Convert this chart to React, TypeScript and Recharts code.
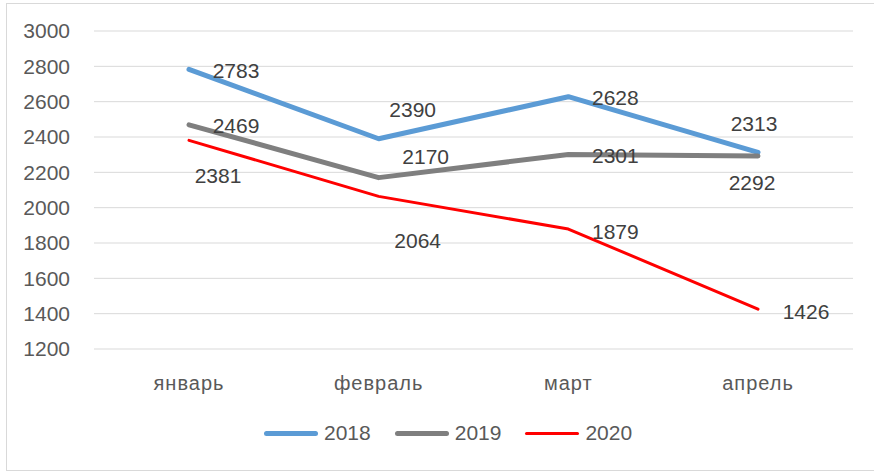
import { LineChart, Line, XAxis, YAxis, CartesianGrid, LabelList } from 'recharts';

const months = ['январь', 'февраль', 'март', 'апрель'];
const values2018 = [2783, 2390, 2628, 2313];
const values2019 = [2469, 2170, 2301, 2292];
const values2020 = [2381, 2064, 1879, 1426];
const yTicks = [1200, 1400, 1600, 1800, 2000, 2200, 2400, 2600, 2800, 3000];

const data = months.map((m, i) => ({
  month: m,
  y2018: values2018[i],
  y2019: values2019[i],
  y2020: values2020[i],
}));

// label offsets relative to each point (label centre)
const offsets2018 = [[47, 1], [34, -29], [47, 1], [-4, -29]];
const offsets2019 = [[47, 1], [47, -21], [47, 1], [-6, 26]];
const offsets2020 = [[29, 35], [39, 44], [47, 2], [48, 2]];

const FONT = '"Liberation Sans", Arial, sans-serif';

const series = [
  { key: 'y2018', name: '2018', color: '#5B9BD5', width: 5, offsets: offsets2018 },
  { key: 'y2019', name: '2019', color: '#7F7F7F', width: 5, offsets: offsets2019 },
  { key: 'y2020', name: '2020', color: '#FF0000', width: 3, offsets: offsets2020 },
];

const makeLabel = (offsets: number[][]) => (props: any) => {
  const { x, y, value, index } = props;
  const [dx, dy] = offsets[index] || [0, 0];
  return (
    <text
      x={x + dx}
      y={y + dy}
      textAnchor="middle"
      dominantBaseline="central"
      fontSize={21}
      fontFamily={FONT}
      fill="#404040"
    >
      {value}
    </text>
  );
};

// legend drawn outside the chart so it doesn't eat plot height
const ChartLegend = () => (
  <div
    style={{
      position: 'absolute',
      left: 264,
      top: 421,
      display: 'flex',
      alignItems: 'center',
      fontFamily: FONT,
      fontSize: 21,
      color: '#595959',
    }}
  >
    {series.map((s, i) => (
      <div key={s.key} style={{ display: 'flex', alignItems: 'center', marginLeft: i === 0 ? 0 : 24 }}>
        <div style={{ width: 54, height: s.width, borderRadius: s.width, backgroundColor: s.color }} />
        <span style={{ marginLeft: 6 }}>{s.name}</span>
      </div>
    ))}
  </div>
);

export default function App() {
  return (
    <div style={{ position: 'absolute', left: 0, top: 0, width: 874, height: 473, background: '#fff' }}>
      <div
        style={{
          position: 'absolute',
          left: 6,
          top: 3,
          width: 870,
          height: 468,
          border: '1px solid #d9d9d9',
          boxSizing: 'border-box',
        }}
      />
      <LineChart
        width={874}
        height={473}
        data={data}
        margin={{ top: 31, right: 21, left: 0, bottom: 94 }}
        style={{ position: 'absolute', left: 0, top: 0 }}
      >
        <CartesianGrid vertical={false} stroke="#d9d9d9" strokeWidth={1} />
        <XAxis
          dataKey="month"
          height={30}
          axisLine={false}
          tickLine={false}
          tickMargin={21}
          padding={{ left: 95, right: 95 }}
          tick={{ fontSize: 20, fontFamily: FONT, fill: '#595959', letterSpacing: 1 }}
        />
        <YAxis
          width={94}
          domain={[1200, 3000]}
          ticks={yTicks}
          axisLine={false}
          tickLine={false}
          tickMargin={18}
          interval={0}
          tick={{ fontSize: 21, fontFamily: FONT, fill: '#595959' }}
        />
        {series.map((s) => (
          <Line
            key={s.key}
            type="linear"
            dataKey={s.key}
            name={s.name}
            stroke={s.color}
            strokeWidth={s.width}
            strokeLinecap="round"
            strokeLinejoin="round"
            dot={false}
            activeDot={false}
            isAnimationActive={false}
          >
            <LabelList dataKey={s.key} content={makeLabel(s.offsets)} />
          </Line>
        ))}
      </LineChart>
      <ChartLegend />
    </div>
  );
}
